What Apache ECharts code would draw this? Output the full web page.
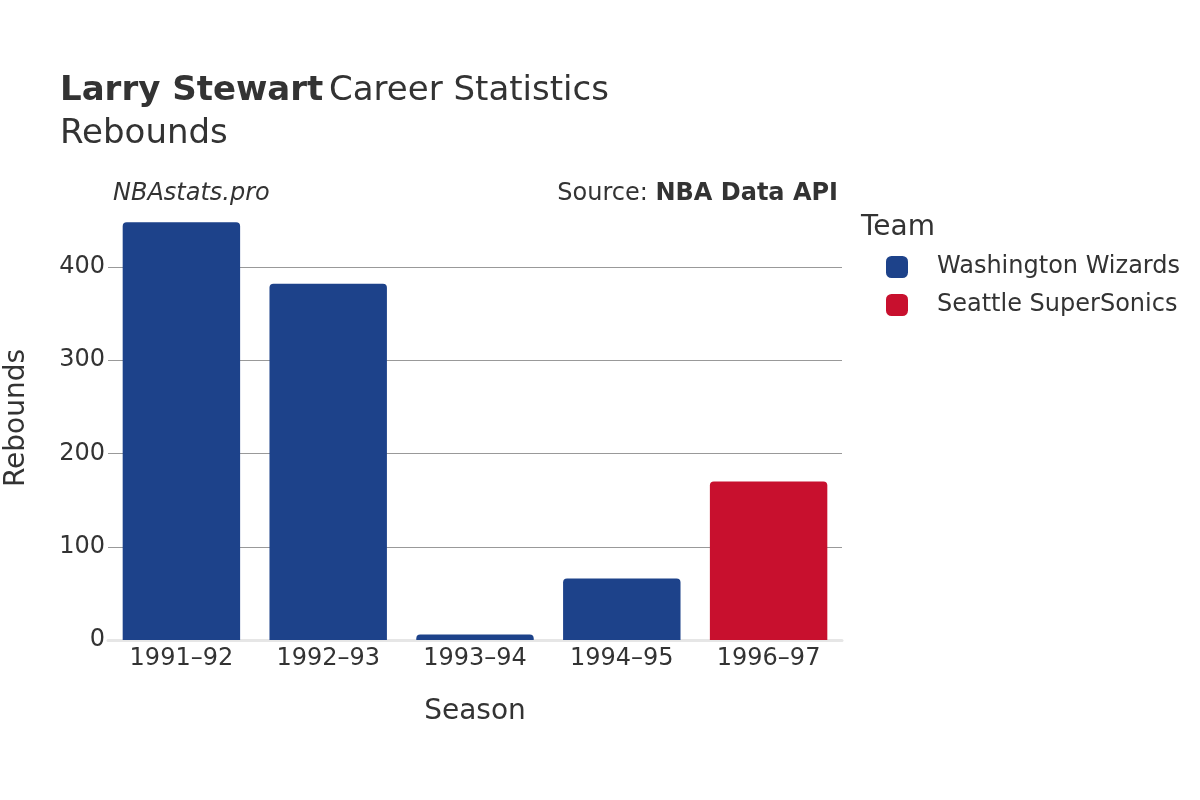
<!DOCTYPE html>
<html><head><meta charset="utf-8">
<script src="https://cdn.jsdelivr.net/npm/echarts@6/dist/echarts.min.js"></script>
<style>html,body{margin:0;padding:0;background:#fff}#c{width:1200px;height:800px}</style>
</head><body><div id="c"></div>
<script>
const seasons = ['1991–92','1992–93','1993–94','1994–95','1996–97'];
const wizards = [448, 382, 6, 66, null];
const sonics = [null, null, null, null, 170];
const yTicks = [0, 100, 200, 300, 400];
const teamNames = ['Washington Wizards', 'Seattle SuperSonics'];
const teamColors = ['#1d428a', '#c8102e'];

const FONT = 'DejaVu Sans';
const chart = echarts.init(document.getElementById('c'), null, {renderer: 'canvas'});
chart.setOption({
  backgroundColor: '#fff',
  textStyle: {fontFamily: FONT},
  animation: false,
  title: {
    left: 55, top: 65,
    text: '{b|Larry Stewart} {n|Career Statistics}\n{n|Rebounds}',
    textStyle: {
      fontWeight: 'normal',
      rich: {
        b: {fontFamily: FONT, fontSize: 34, fontWeight: 'bold', color: '#333', lineHeight: 43},
        n: {fontFamily: FONT, fontSize: 34, fontWeight: 'normal', color: '#333', lineHeight: 43}
      }
    }
  },
  graphic: [
    {type: 'text', left: 113, top: 182, style: {text: 'NBAstats.pro', font: 'italic 24px "DejaVu Sans"', fill: '#333'}},
    {type: 'text', right: 362, top: 182, style: {text: '{n|Source: }{b|NBA Data API}', fill: '#333', rich: {n: {fontFamily: FONT, fontSize: 24, fill: '#333'}, b: {fontFamily: FONT, fontSize: 24, fontWeight: 'bold', fill: '#333'}}}},
    {type: 'text', left: 861, top: 214, style: {text: 'Team', font: '28px "DejaVu Sans"', fill: '#333'}},
    {type: 'text', x: 475, y: 712, style: {text: 'Season', font: '28px "DejaVu Sans"', fill: '#333', align: 'center', verticalAlign: 'middle'}},
    {type: 'text', x: 17, y: 418, rotation: Math.PI / 2, style: {text: 'Rebounds', font: '28px "DejaVu Sans"', fill: '#333', align: 'center', verticalAlign: 'middle'}}
  ],
  legend: {
    orient: 'vertical', left: 886, top: 255, padding: 0,
    data: teamNames,
    icon: 'roundRect', itemWidth: 22, itemHeight: 22, itemGap: 14,
    textStyle: {fontFamily: FONT, fontSize: 24, color: '#333', lineHeight: 22, padding: [0, 0, 0, 24]},
    selectedMode: false
  },
  grid: {left: 108, right: 358, top: 267, bottom: 160, containLabel: false},
  xAxis: {
    type: 'category', data: seasons,
    axisLine: {show: true, lineStyle: {color: '#e6e6e6', width: 3}},
    axisTick: {show: false},
    axisLabel: {fontFamily: FONT, fontSize: 24, color: '#333', margin: 7}
  },
  yAxis: {
    type: 'value', min: yTicks[0], max: yTicks[yTicks.length - 1], interval: 100,
    axisLine: {show: false}, axisTick: {show: false},
    axisLabel: {fontFamily: FONT, fontSize: 24, color: '#333', margin: 3},
    splitLine: {show: true, lineStyle: {color: '#999', width: 1}}
  },
  series: [
    {name: teamNames[0], type: 'bar', data: wizards, barWidth: '80%', barGap: '-100%', clip: false,
     itemStyle: {color: teamColors[0], borderRadius: [4, 4, 0, 0]}},
    {name: teamNames[1], type: 'bar', data: sonics, barWidth: '80%', barGap: '-100%', clip: false,
     itemStyle: {color: teamColors[1], borderRadius: [4, 4, 0, 0]}}
  ]
});
</script></body></html>
